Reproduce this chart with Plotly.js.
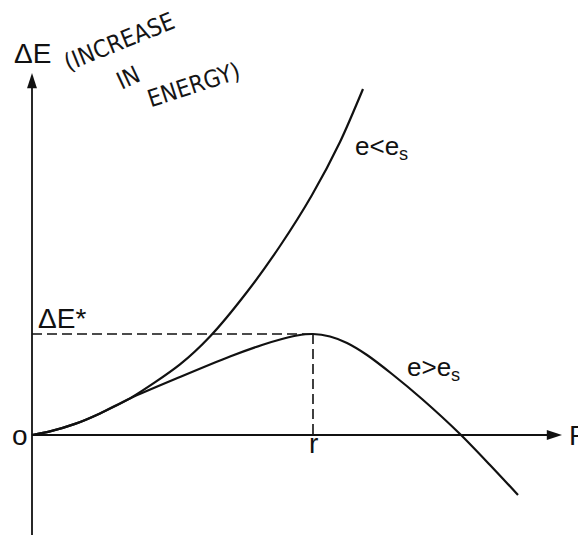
<!DOCTYPE html>
<html>
<head>
<meta charset="utf-8">
<script src="https://cdn.plot.ly/plotly-3.0.1.min.js"></script>
<style>html,body{margin:0;padding:0;background:#fff;}#chart{width:578px;height:538px;}</style>
</head>
<body>
<div id="chart"></div>
<script>
// Radius R (arbitrary units) and increase in energy ΔE
const rUpper = [0, 0.18, 0.43, 0.68, 0.98, 1.48, 1.78, 2.15, 2.48, 2.80, 3.08, 3.31];
const eUpper = [0, 0.036, 0.111, 0.216, 0.366, 0.706, 0.985, 1.43, 1.89, 2.40, 2.93, 3.46];
const rLower = [0, 0.18, 0.43, 0.68, 0.98, 1.48, 1.98, 2.30, 2.50, 2.65, 2.81, 2.98, 3.15, 3.35, 3.60, 3.90, 4.28, 4.58, 4.86];
const eLower = [0, 0.036, 0.111, 0.216, 0.366, 0.58, 0.785, 0.90, 0.96, 0.995, 1.01, 0.985, 0.92, 0.80, 0.61, 0.36, 0.01, -0.30, -0.60];
const rCrit = 2.81;      // r (critical radius)
const eCrit = 1.01;      // ΔE*
const rAxisEnd = 5.30;
const eAxisTop = 3.62;
const eAxisBottom = -1.0;
const labelUpper = 'e<e<sub>s</sub>';
const labelLower = 'e>e<sub>s</sub>';

const ink = '#111';
const font = 'Liberation Sans, Arial, sans-serif';

const traces = [
  {x: [0, 0], y: [eAxisBottom, eAxisTop - 0.08], mode: 'lines', line: {color: ink, width: 1.8}},
  {x: [0, rAxisEnd - 0.08], y: [0, 0], mode: 'lines', line: {color: ink, width: 1.8}},
  {x: [0], y: [eAxisTop], mode: 'markers', marker: {symbol: 'arrow', angle: 0, size: 16, color: ink}},
  {x: [rAxisEnd], y: [0], mode: 'markers', marker: {symbol: 'arrow', angle: 90, size: 16, color: ink}},
  {x: [0, rCrit], y: [eCrit, eCrit], mode: 'lines', line: {color: ink, width: 1.6, dash: '10px,5px'}},
  {x: [rCrit, rCrit], y: [eCrit, 0], mode: 'lines', line: {color: ink, width: 1.6, dash: '10px,5px'}},
  {x: rUpper, y: eUpper, mode: 'lines', line: {color: ink, width: 2.2, shape: 'spline', smoothing: 0.8}},
  {x: rLower, y: eLower, mode: 'lines', line: {color: ink, width: 2.2, shape: 'spline', smoothing: 0.8}}
];

const ann = (x, y, text, size, extra) => Object.assign({
  x: x, y: y, xref: 'x', yref: 'y', text: text, showarrow: false,
  font: {family: font, size: size, color: ink}
}, extra || {});

const hand = {family: 'DejaVu Sans Condensed, DejaVu Sans, sans-serif', size: 24, color: '#151515'};

const layout = {
  width: 578, height: 538,
  margin: {l: 0, r: 0, t: 0, b: 0},
  paper_bgcolor: '#fff', plot_bgcolor: '#fff',
  showlegend: false,
  xaxis: {range: [-0.32, 5.46], visible: false, fixedrange: true},
  yaxis: {range: [-1.03, 4.35], visible: false, fixedrange: true},
  annotations: [
    ann(0, 3.82, 'ΔE', 28),
    ann(0.04, 1.17, 'ΔE*', 28, {xanchor: 'left'}),
    ann(-0.12, 0.0, 'o', 28),
    ann(rCrit, -0.08, 'r', 28),
    ann(5.35, 0.0, 'R', 28, {xanchor: 'left'}),
    ann(3.21, 2.88, labelUpper, 26, {xanchor: 'left'}),
    ann(3.73, 0.67, labelLower, 26, {xanchor: 'left'}),
    {x: 0.87, y: 3.93, xref: 'x', yref: 'y', text: '(INCREASE', showarrow: false, textangle: -22, font: hand},
    {x: 0.96, y: 3.57, xref: 'x', yref: 'y', text: 'IN', showarrow: false, textangle: -25, font: hand},
    {x: 1.62, y: 3.50, xref: 'x', yref: 'y', text: 'ENERGY)', showarrow: false, textangle: -18, font: hand}
  ]
};

Plotly.newPlot('chart', traces, layout, {staticPlot: true, displayModeBar: false});
</script>
</body>
</html>
